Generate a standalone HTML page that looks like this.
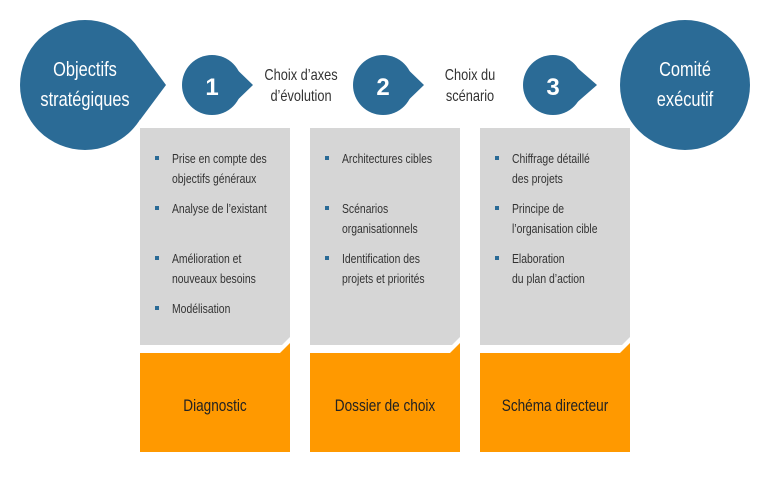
<!DOCTYPE html>
<html><head><meta charset="utf-8"><style>
body{margin:0;background:#fff}
svg{display:block}
text{font-family:"Liberation Sans",sans-serif}
.b{fill:#333;font-size:13px}
.w{fill:#fff}
.s{fill:#333;font-size:16px}
</style></head><body>
<svg width="770" height="480" viewBox="0 0 770 480">
<defs>
<clipPath id="c"><rect width="770" height="480"/></clipPath>
</defs>
<!-- big circle left -->
<circle cx="85" cy="85" r="65" fill="#2b6b96"/>
<path d="M140 50 L166 85 L140 120 Z" fill="#2b6b96"/>
<!-- circles -->
<circle cx="212" cy="85" r="30" fill="#2b6b96"/><path d="M225 58 L253 85 L225 112Z" fill="#2b6b96"/>
<circle cx="383" cy="85" r="30" fill="#2b6b96"/><path d="M396 58 L424 85 L396 112Z" fill="#2b6b96"/>
<circle cx="553" cy="85" r="30" fill="#2b6b96"/><path d="M566 58 L597 85 L566 112Z" fill="#2b6b96"/>
<circle cx="685" cy="85" r="65" fill="#2b6b96"/>

<g class="w" font-size="20" text-anchor="middle">
<g transform="translate(85,76) scale(0.82,1)"><text>Objectifs</text></g>
<g transform="translate(85,106) scale(0.82,1)"><text>stratégiques</text></g>
<g transform="translate(685,76) scale(0.82,1)"><text>Comité</text></g>
<g transform="translate(685,106) scale(0.82,1)"><text>exécutif</text></g>
</g>
<g class="w" font-size="24" font-weight="bold" text-anchor="middle">
<text x="212" y="95">1</text><text x="383" y="95">2</text><text x="553" y="95">3</text>
</g>
<g class="s" text-anchor="middle">
<g transform="translate(301,80) scale(0.8,1)"><text>Choix d’axes</text></g>
<g transform="translate(301,101) scale(0.8,1)"><text>d’évolution</text></g>
<g transform="translate(470,80) scale(0.8,1)"><text>Choix du</text></g>
<g transform="translate(470,101) scale(0.8,1)"><text>scénario</text></g>
</g>

<!-- columns -->
<g fill="#d6d6d6">
<path d="M140 128H290V337L282 345H140Z"/>
<path d="M310 128H460V337L452 345H310Z"/>
<path d="M480 128H630V337L622 345H480Z"/>
</g>
<g fill="#ff9900">
<path d="M140 353H280L290 343V452H140Z"/>
<path d="M310 353H450L460 343V452H310Z"/>
<path d="M480 353H620L630 343V452H480Z"/>
</g>
<g fill="#2b6b96">
<rect x="155" y="156" width="4" height="4"/><rect x="155" y="206" width="4" height="4"/><rect x="155" y="256" width="4" height="4"/><rect x="155" y="306" width="4" height="4"/>
<rect x="325" y="156" width="4" height="4"/><rect x="325" y="206" width="4" height="4"/><rect x="325" y="256" width="4" height="4"/>
<rect x="495" y="156" width="4" height="4"/><rect x="495" y="206" width="4" height="4"/><rect x="495" y="256" width="4" height="4"/>
</g>
<g class="b">
<g transform="translate(172,163) scale(0.8,1)"><text>Prise en compte des</text><text y="20">objectifs généraux</text><text y="50">Analyse de l’existant</text><text y="100">Amélioration et</text><text y="120">nouveaux besoins</text><text y="150">Modélisation</text></g>
<g transform="translate(342,163) scale(0.8,1)"><text>Architectures cibles</text><text y="50">Scénarios</text><text y="70">organisationnels</text><text y="100">Identification des</text><text y="120">projets et priorités</text></g>
<g transform="translate(512,163) scale(0.8,1)"><text>Chiffrage détaillé</text><text y="20">des projets</text><text y="50">Principe de</text><text y="70">l’organisation cible</text><text y="100">Elaboration</text><text y="120">du plan d’action</text></g>
</g>
<g fill="#222" font-size="17" text-anchor="middle">
<g transform="translate(215,411) scale(0.8,1)"><text>Diagnostic</text></g>
<g transform="translate(385,411) scale(0.8,1)"><text>Dossier de choix</text></g>
<g transform="translate(555,411) scale(0.8,1)"><text>Schéma directeur</text></g>
</g>
</svg>
</body></html>
